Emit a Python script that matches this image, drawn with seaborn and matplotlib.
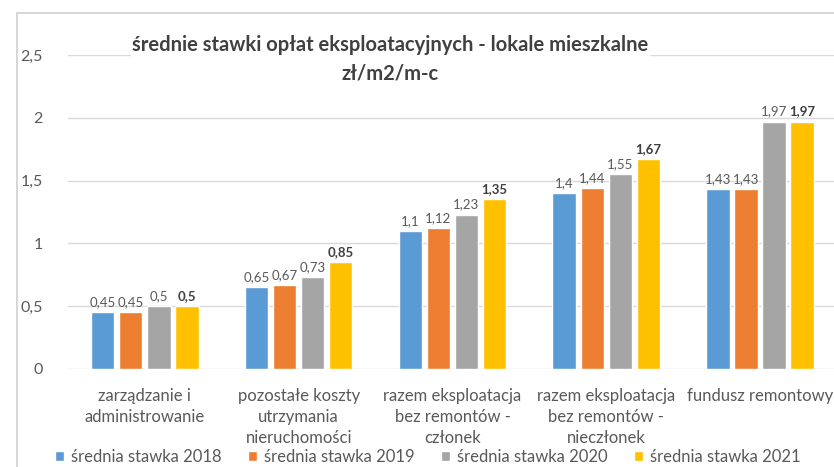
#importing libraries
import pandas as pd
import seaborn as sns
import matplotlib.pyplot as plt
from matplotlib.patches import Rectangle

#data
categories = ["zarządzanie i\nadministrowanie",
              "pozostałe koszty\nutrzymania\nnieruchomości",
              "razem eksploatacja\nbez remontów -\nczłonek",
              "razem eksploatacja\nbez remontów -\nniecz\u0142onek",
              "fundusz remontowy"]
series = ["średnia stawka 2018", "średnia stawka 2019", "średnia stawka 2020", "średnia stawka 2021"]
v2018 = [0.45, 0.65, 1.10, 1.40, 1.43]
v2019 = [0.45, 0.67, 1.12, 1.44, 1.43]
v2020 = [0.50, 0.73, 1.23, 1.55, 1.97]
v2021 = [0.50, 0.85, 1.35, 1.67, 1.97]
colors = ["#5B9BD5", "#ED7D31", "#A5A5A5", "#FFC000"]

#long format dataframe for seaborn
rows = []
for s, vals in zip(series, [v2018, v2019, v2020, v2021]):
    for c, v in zip(categories, vals):
        rows.append({"kategoria": c, "seria": s, "wartosc": v})
df = pd.DataFrame(rows)

sns.set_style("white")
plt.rcParams['font.family'] = ['Lato', 'DejaVu Sans']
txt = "#595959"

fig = plt.figure(figsize=(8.34, 4.67), dpi=100)
#chart border like in excel
fig.patches.append(Rectangle((17/834, -0.05), 1.0, 1 - 13/467 + 0.05, transform=fig.transFigure,
                             fill=False, edgecolor="#D0D0D0", linewidth=1.2))
ax = fig.add_axes([0.0815, 0.2099, 0.922, 0.6723])

sns.barplot(data=df, x="kategoria", y="wartosc", hue="seria", palette=colors,
            width=0.73, gap=0.17, ax=ax, legend=True, saturation=1)

ax.set_ylim(0, 2.5)
ax.set_xlim(-0.5, 4.5)
ax.set_yticks([0, 0.5, 1, 1.5, 2, 2.5])
ax.set_yticklabels(["0", "0,5", "1", "1,5", "2", "2,5"], color=txt, fontsize=11.5)
ax.tick_params(axis='y', length=0, pad=18)
ax.tick_params(axis='x', length=0, pad=14, labelsize=12, labelcolor=txt)
for t in ax.get_xticklabels():
    t.set_linespacing(1.35)
ax.yaxis.grid(True, color="#D9D9D9", linewidth=1)
ax.set_axisbelow(True)
for sp in ax.spines.values():
    sp.set_visible(False)
ax.set_xlabel("")
ax.set_ylabel("")

#data labels with comma decimals
for i, cont in enumerate(ax.containers):
    labs = [f"{v:g}".replace(".", ",") for v in cont.datavalues]
    if i == 3:
        ax.bar_label(cont, labels=labs, padding=3, fontsize=9.5, color="#404040", fontweight="bold")
    else:
        ax.bar_label(cont, labels=labs, padding=3, fontsize=9.5, color=txt)

fig.text(0.468, 0.873, "średnie stawki opłat eksploatacyjnych - lokale mieszkalne\nzł/m2/m-c",
         ha="center", va="center", fontsize=14.5, fontweight="bold", color="#404040",
         linespacing=1.5, bbox=dict(facecolor="white", edgecolor="none", pad=1))

h, l = ax.get_legend_handles_labels()
ax.legend_.remove()
fig.legend(h, l, loc="center", bbox_to_anchor=(0.513, 0.021), ncol=4, frameon=False,
           fontsize=12, labelcolor=txt, handlelength=0.55, handleheight=0.55,
           handletextpad=0.4, columnspacing=1.6, borderpad=0)

plt.savefig("out.png", dpi=100)
